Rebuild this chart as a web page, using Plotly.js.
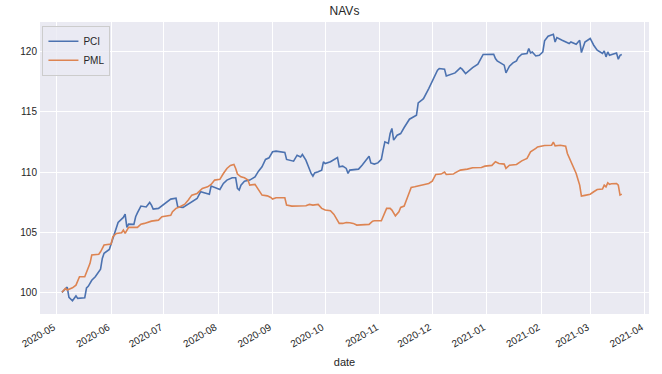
<!DOCTYPE html>
<html>
<head>
<meta charset="utf-8">
<script src="https://cdn.plot.ly/plotly-3.0.1.min.js"></script>
<style>html,body{margin:0;padding:0;background:#fff}#chart{width:662px;height:374px}</style>
</head>
<body>
<div id="chart"></div>
<script>
const pciDates = ['2020-05-04','2020-05-07','2020-05-08','2020-05-10','2020-05-12','2020-05-13','2020-05-17','2020-05-18','2020-05-19','2020-05-21','2020-05-23','2020-05-26','2020-05-27','2020-05-28','2020-05-31',
'2020-06-02','2020-06-03','2020-06-05','2020-06-08','2020-06-09','2020-06-10','2020-06-11','2020-06-14','2020-06-15','2020-06-16','2020-06-18','2020-06-21','2020-06-23','2020-06-24','2020-06-25','2020-06-28',
'2020-07-02','2020-07-05','2020-07-08','2020-07-09','2020-07-12','2020-07-15','2020-07-18','2020-07-20','2020-07-22','2020-07-24','2020-07-27','2020-07-28','2020-07-30',
'2020-08-02','2020-08-04','2020-08-06','2020-08-09','2020-08-11','2020-08-12','2020-08-13','2020-08-14','2020-08-16','2020-08-19','2020-08-22','2020-08-24','2020-08-26','2020-08-28','2020-08-30',
'2020-09-01','2020-09-03','2020-09-08','2020-09-09','2020-09-13','2020-09-15','2020-09-17','2020-09-18','2020-09-20','2020-09-21','2020-09-23','2020-09-24','2020-09-25','2020-09-27','2020-09-29','2020-09-30',
'2020-10-01','2020-10-04','2020-10-07','2020-10-08','2020-10-09','2020-10-11','2020-10-13','2020-10-14','2020-10-15','2020-10-18','2020-10-20','2020-10-22','2020-10-24','2020-10-26','2020-10-27','2020-10-29','2020-10-31',
'2020-11-02','2020-11-03','2020-11-04','2020-11-06','2020-11-07','2020-11-08','2020-11-09','2020-11-11','2020-11-13','2020-11-15','2020-11-17','2020-11-18','2020-11-22','2020-11-23','2020-11-25','2020-11-26','2020-11-29',
'2020-12-02','2020-12-04','2020-12-05','2020-12-08','2020-12-09','2020-12-11','2020-12-14','2020-12-17','2020-12-18','2020-12-20','2020-12-22','2020-12-24','2020-12-27','2020-12-29','2020-12-30',
'2021-01-05','2021-01-06','2021-01-07','2021-01-10','2021-01-11','2021-01-12','2021-01-14','2021-01-16','2021-01-18','2021-01-19','2021-01-21','2021-01-24','2021-01-25','2021-01-26','2021-01-27','2021-01-29','2021-01-31',
'2021-02-02','2021-02-03','2021-02-05','2021-02-08','2021-02-09','2021-02-10','2021-02-13','2021-02-16','2021-02-17','2021-02-18','2021-02-21','2021-02-23','2021-02-24','2021-02-26',
'2021-03-01','2021-03-03','2021-03-05','2021-03-08','2021-03-09','2021-03-10','2021-03-11','2021-03-12','2021-03-14','2021-03-16','2021-03-17','2021-03-18','2021-03-19'];
const pciValues = [100.0,100.44,99.58,99.3,99.7,99.5,99.55,100.36,100.5,101.0,101.3,101.93,102.82,103.24,103.57,
104.48,104.9,105.81,106.23,106.5,105.4,105.67,105.65,106.28,106.6,107.17,107.1,107.47,107.25,106.92,106.98,
107.39,107.75,107.82,107.1,107.06,107.33,107.6,107.8,108.36,108.27,108.16,108.83,108.72,
108.55,109.05,109.33,109.52,109.52,108.64,108.5,108.91,109.24,109.33,109.6,110.07,110.43,111.05,111.18,
111.68,111.74,111.63,111.05,110.9,111.4,111.26,111.46,110.99,110.57,109.88,109.66,109.93,110.02,110.16,110.85,
110.71,110.85,111.13,111.21,110.43,110.49,110.3,109.88,110.16,110.22,110.24,110.57,110.99,111.32,110.76,110.66,110.76,
111.05,111.82,112.51,112.38,113.2,113.62,112.65,113.06,113.2,113.7,114.17,114.39,114.72,115.74,115.97,116.1,116.94,
117.85,118.46,118.6,118.55,117.99,118.1,118.24,118.66,118.55,118.19,118.46,118.68,118.96,119.43,119.77,
119.79,119.43,119.24,118.96,118.88,118.24,118.8,119.07,119.24,119.52,119.79,119.85,120.27,119.9,119.98,119.65,119.7,
119.98,120.9,121.29,121.45,120.81,121.18,120.95,120.73,120.68,120.81,120.62,120.95,119.93,120.81,
121.1,120.54,120.12,119.85,120.07,119.57,119.98,119.7,119.79,119.9,119.38,119.7,119.76];

const pmlDates = ['2020-05-04','2020-05-06','2020-05-07','2020-05-10','2020-05-12','2020-05-14','2020-05-17','2020-05-18','2020-05-20','2020-05-21','2020-05-25','2020-05-26','2020-05-28',
'2020-06-01','2020-06-02','2020-06-04','2020-06-07','2020-06-08','2020-06-09','2020-06-11','2020-06-16','2020-06-18','2020-06-20','2020-06-24','2020-06-28','2020-06-30',
'2020-07-05','2020-07-06','2020-07-08','2020-07-10','2020-07-13','2020-07-15','2020-07-17','2020-07-20','2020-07-23','2020-07-26','2020-07-28','2020-07-30',
'2020-08-02','2020-08-04','2020-08-06','2020-08-08','2020-08-10','2020-08-11','2020-08-12','2020-08-14','2020-08-16','2020-08-18','2020-08-19','2020-08-22','2020-08-24','2020-08-26','2020-08-29','2020-08-31',
'2020-09-01','2020-09-03','2020-09-08','2020-09-09','2020-09-12','2020-09-17','2020-09-20','2020-09-22','2020-09-24','2020-09-27','2020-09-29',
'2020-10-01','2020-10-04','2020-10-06','2020-10-08','2020-10-09','2020-10-11','2020-10-13','2020-10-15','2020-10-17','2020-10-19','2020-10-22','2020-10-26','2020-10-28','2020-10-29',
'2020-11-02','2020-11-04','2020-11-05','2020-11-07','2020-11-08','2020-11-10','2020-11-12','2020-11-13','2020-11-15','2020-11-17','2020-11-19','2020-11-21','2020-11-25','2020-11-29',
'2020-12-01','2020-12-03','2020-12-06','2020-12-08','2020-12-09','2020-12-13','2020-12-14','2020-12-17','2020-12-21','2020-12-24','2020-12-29','2020-12-31',
'2021-01-04','2021-01-06','2021-01-08','2021-01-11','2021-01-12','2021-01-14','2021-01-18','2021-01-21','2021-01-24','2021-01-26','2021-01-29','2021-01-30',
'2021-02-03','2021-02-07','2021-02-08','2021-02-09','2021-02-12','2021-02-15','2021-02-16','2021-02-18','2021-02-21','2021-02-23','2021-02-24','2021-02-26',
'2021-03-01','2021-03-03','2021-03-05','2021-03-08','2021-03-09','2021-03-10','2021-03-11','2021-03-12','2021-03-13','2021-03-16','2021-03-17','2021-03-18','2021-03-19'];
const pmlValues = [100.0,100.33,100.19,100.38,100.6,101.3,101.3,101.63,102.41,103.1,103.16,103.37,103.93,
104.01,104.62,104.9,104.95,105.17,104.9,105.4,105.4,105.67,105.73,105.92,106.0,106.28,
106.4,106.7,106.98,107.1,107.33,107.67,108.08,108.22,108.64,108.77,108.97,109.33,
109.39,109.88,110.3,110.55,110.63,110.3,109.83,109.6,109.52,109.33,108.91,108.97,108.5,108.08,108.02,107.89,
107.75,107.86,107.86,107.25,107.17,107.2,107.2,107.31,107.25,107.31,106.98,
106.84,106.78,106.48,106.0,105.73,105.73,105.81,105.78,105.73,105.59,105.61,105.65,105.92,105.95,
105.95,106.7,106.98,106.98,106.84,106.36,106.7,107.06,107.17,107.94,108.72,108.77,108.91,109.05,
109.24,109.8,109.83,110.0,109.8,109.83,109.93,110.16,110.24,110.35,110.38,110.49,
110.55,110.85,110.71,110.66,110.3,110.57,110.63,110.93,111.13,111.68,111.96,112.09,
112.2,112.23,112.48,112.18,112.23,112.15,111.54,110.85,109.88,108.91,108.0,108.06,
108.16,108.36,108.55,108.58,108.91,108.77,109.1,108.97,109.02,109.05,108.91,108.08,108.16];

const seriesNames = ['PCI','PML'];
const seriesColors = ['#4c72b0','#dd8452'];
const yTicks = [100,105,110,115,120];

const font = "'Liberation Sans', Arial, 'DejaVu Sans', sans-serif";
const traces = [
  {x: pciDates, y: pciValues, name: seriesNames[0], type: 'scatter', mode: 'lines', line: {color: seriesColors[0], width: 1.6}},
  {x: pmlDates, y: pmlValues, name: seriesNames[1], type: 'scatter', mode: 'lines', line: {color: seriesColors[1], width: 1.6}}
];
const layout = {
  width: 662, height: 374,
  margin: {l: 40, r: 13, t: 22, b: 60},
  paper_bgcolor: '#ffffff', plot_bgcolor: '#eaeaf2',
  font: {family: font, size: 10, color: '#262626'},
  title: {text: 'NAVs', font: {family: font, size: 12, color: '#262626'}, x: 0.5, xref: 'paper', y: 0.97, yref: 'container', yanchor: 'middle'},
  xaxis: {
    type: 'date',
    range: ['2020-04-21 12:00', '2021-04-03 12:00'],
    tick0: '2020-05-01', dtick: 'M1', tickformat: '%Y-%m',
    tickangle: -30,
    ticklabelstandoff: 5, ticklabelshift: -3,
    showgrid: true, gridcolor: '#ffffff', gridwidth: 1,
    zeroline: false, showline: false, ticks: '',
    tickfont: {family: font, size: 10, color: '#262626'},
    title: {text: 'date', font: {family: font, size: 11, color: '#262626'}, standoff: 9},
    automargin: false
  },
  yaxis: {
    range: [98.2, 122.47],
    tickvals: yTicks,
    showgrid: true, gridcolor: '#ffffff', gridwidth: 1,
    zeroline: false, showline: false, ticks: '',
    ticklabelstandoff: 2,
    tickfont: {family: font, size: 10, color: '#262626'},
    automargin: false
  },
  legend: {
    x: 0.004, y: 0.987, xanchor: 'left', yanchor: 'top',
    bgcolor: 'rgba(234,234,242,0.8)', bordercolor: '#cccccc', borderwidth: 1,
    font: {family: font, size: 10, color: '#262626'},
    itemwidth: 30, tracegroupgap: 0
  },
  showlegend: true
};
Plotly.newPlot('chart', traces, layout, {displayModeBar: false, staticPlot: true});
</script>
</body>
</html>
